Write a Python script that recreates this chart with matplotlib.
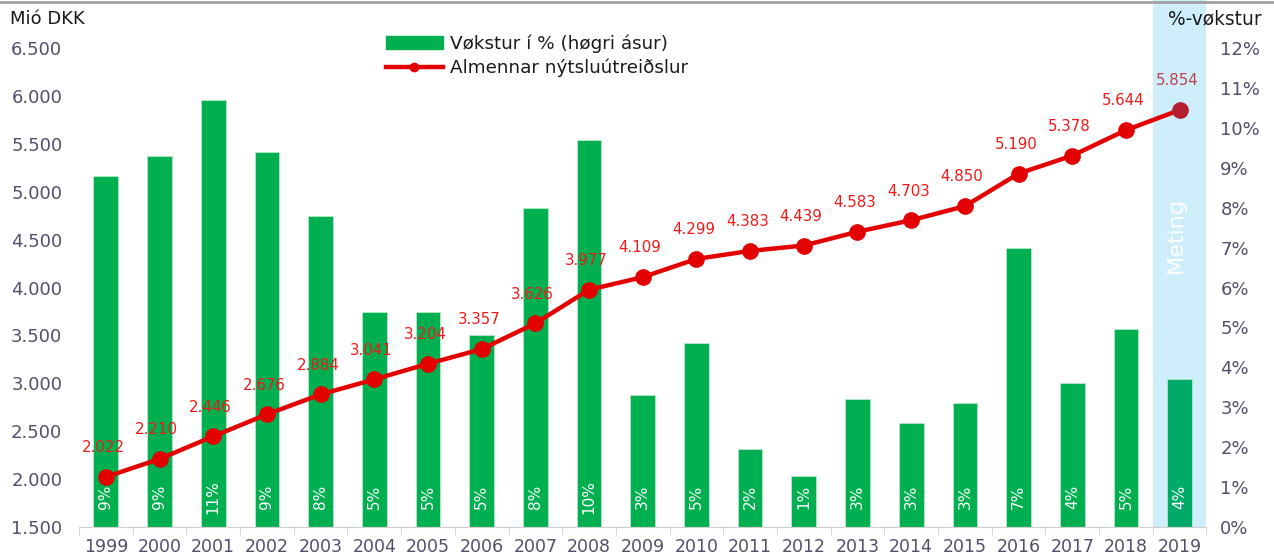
import matplotlib.pyplot as plt
from matplotlib.lines import Line2D
from matplotlib.patches import Patch

# data
years = ['1999', '2000', '2001', '2002', '2003', '2004', '2005', '2006', '2007', '2008',
         '2009', '2010', '2011', '2012', '2013', '2014', '2015', '2016', '2017', '2018', '2019']
spending = [2022, 2210, 2446, 2676, 2884, 3041, 3204, 3357, 3626, 3977,
            4109, 4299, 4383, 4439, 4583, 4703, 4850, 5190, 5378, 5644, 5854]
growth = [8.8, 9.3, 10.7, 9.4, 7.8, 5.4, 5.4, 4.8, 8.0, 9.7,
          3.3, 4.6, 1.95, 1.28, 3.2, 2.6, 3.1, 7.0, 3.6, 4.95, 3.7]
growth_labels = ['9%', '9%', '11%', '9%', '8%', '5%', '5%', '5%', '8%', '10%',
                 '3%', '5%', '2%', '1%', '3%', '3%', '3%', '7%', '4%', '5%', '4%']
left_ticks = [1500, 2000, 2500, 3000, 3500, 4000, 4500, 5000, 5500, 6000, 6500]
right_ticks = list(range(0, 13))

green = '#00b050'
red = '#e30000'
label_red = '#f01818'
tick_col = '#50506a'
band_col = '#cdeefa'

fig = plt.figure(figsize=(12.74, 5.6), dpi=100)
ax = fig.add_axes([0.062, 0.059, 0.885, 0.855])
ax2 = ax.twinx()
ax.set_zorder(ax2.get_zorder() + 1)
ax.patch.set_visible(False)

x = list(range(len(years)))

# Meting band (forecast year)
ax2.axvspan(19.5, 20.5, ymin=0, ymax=1.1, color=band_col, clip_on=False, zorder=0, lw=0)

bar_colors = [green] * (len(years) - 1) + ['#00ab6a']
ax2.bar(x, growth, width=0.46, color=bar_colors, edgecolor='#b8e8c8', linewidth=0.6, zorder=2)
for i, lab in enumerate(growth_labels):
    ax2.text(i, 0.75, lab, rotation=90, ha='center', va='center', color='white',
             fontsize=11, zorder=3)

ax.plot(x[:-1], spending[:-1], color=red, lw=3.2, marker='o', ms=11, zorder=4)
ax.plot(x[-2:], spending[-2:], color=red, lw=3.2, zorder=4)
ax.plot(x[-1], spending[-1], marker='o', ms=11, color='#b5202e', zorder=5)
for i, v in enumerate(spending):
    s = f'{v:,}'.replace(',', '.')
    c = '#c0404f' if i == len(spending) - 1 else label_red
    ax.annotate(s, (i, v), xytext=(-2, 21), textcoords='offset points',
                ha='center', va='center', color=c, fontsize=10.8)

ax.set_xlim(-0.5, 20.5)
ax.set_ylim(1500, 6500)
ax2.set_ylim(0, 12)
ax.set_yticks(left_ticks)
ax.set_yticklabels([f'{t:,}'.replace(',', '.') for t in left_ticks])
ax2.set_yticks(right_ticks)
ax2.set_yticklabels([f'{t}%' for t in right_ticks])

ax.set_xticks(x)
ax.set_xticklabels(years)
ax.set_xticks([i + 0.5 for i in range(-1, 21)], minor=True)
ax.tick_params(axis='x', which='major', length=0, labelsize=12.5, labelcolor=tick_col, pad=8)
ax.tick_params(axis='x', which='minor', length=6, color='#d0d0d0')
ax.tick_params(axis='y', length=0, labelsize=13, labelcolor=tick_col, pad=12)
ax2.tick_params(axis='y', length=0, labelsize=13, labelcolor=tick_col, pad=10)

for a in (ax, ax2):
    for side in ('top', 'left', 'right'):
        a.spines[side].set_visible(False)
    a.spines['bottom'].set_color('#d0d0d0')

ax2.text(0.9725, 0.61, 'Meting', transform=ax2.transAxes, rotation=90, color='white',
         fontsize=16, ha='center', va='center', zorder=3)

fig.text(0.008, 0.966, 'Mió DKK', fontsize=13, color='#1a1a1a', va='center')
fig.text(0.99, 0.966, '%-vøkstur', fontsize=13.4, color='#1a1a1a', va='center', ha='right')

handles = [Patch(color=green),
           Line2D([0], [0], color=red, lw=3.2, marker='o', ms=6)]
fig.legend(handles, ['Vøkstur í % (høgri ásur)', 'Almennar nýtsluútreiðslur'],
           loc='upper left', bbox_to_anchor=(0.29, 0.968), frameon=False,
           fontsize=13.2, handlelength=3.1, labelspacing=0.3, handletextpad=0.4,
           labelcolor='#1a1a1a')

fig.add_artist(Line2D([0, 1], [0.997, 0.997], color='#a0a0a0', lw=2, transform=fig.transFigure))

fig.savefig('out.png', dpi=100)
